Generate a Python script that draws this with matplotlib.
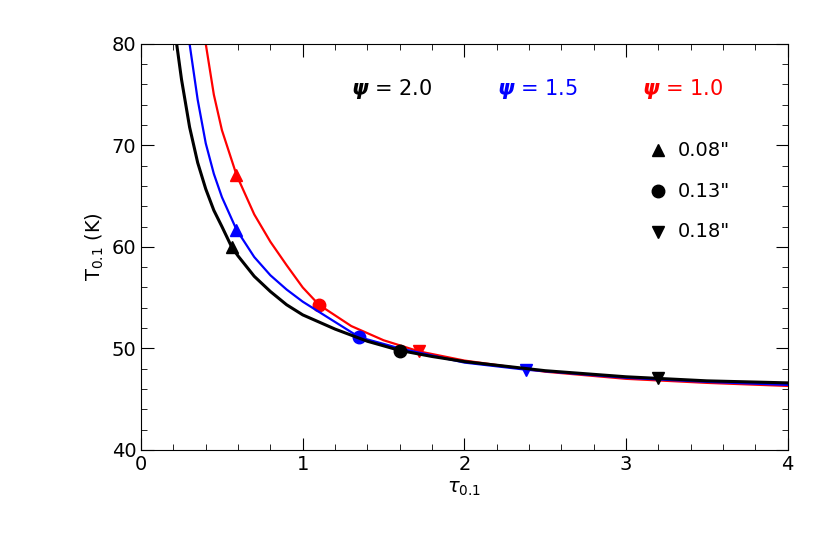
import matplotlib
matplotlib.use("Agg")
import matplotlib.pyplot as plt
from matplotlib.ticker import MultipleLocator

# curves T(tau) for three psi values
tau_k = [0.22, 0.25, 0.3, 0.35, 0.4, 0.45, 0.5, 0.56, 0.6, 0.7, 0.8, 0.9, 1.0, 1.2, 1.4, 1.6, 1.8, 2.0, 2.5, 3.0, 3.5, 4.0]
t_k = [80, 76.5, 71.8, 68.3, 65.7, 63.6, 62.0, 60.0, 59.1, 57.1, 55.6, 54.3, 53.3, 51.9, 50.7, 49.8, 49.2, 48.7, 47.8, 47.2, 46.8, 46.6]
tau_b = [0.3, 0.35, 0.4, 0.45, 0.5, 0.59, 0.7, 0.8, 0.9, 1.0, 1.2, 1.35, 1.6, 2.0, 2.38, 3.0, 3.5, 4.0]
t_b = [80, 74.5, 70.2, 67.2, 64.9, 61.7, 59.0, 57.2, 55.8, 54.6, 52.6, 51.1, 50.0, 48.6, 47.9, 47.1, 46.7, 46.4]
tau_r = [0.4, 0.45, 0.5, 0.59, 0.7, 0.8, 0.9, 1.0, 1.1, 1.3, 1.5, 1.72, 2.0, 2.5, 3.0, 3.5, 4.0]
t_r = [80, 75.0, 71.5, 67.1, 63.2, 60.5, 58.2, 56.0, 54.3, 52.2, 50.8, 49.7, 48.8, 47.7, 47.0, 46.6, 46.3]

# markers for 0.08", 0.13", 0.18"
mk_tau_k = [0.56, 1.6, 3.2]
mk_t_k = [60.0, 49.7, 47.1]
mk_tau_b = [0.59, 1.35, 2.38]
mk_t_b = [61.7, 51.1, 47.9]
mk_tau_r = [0.59, 1.1, 1.72]
mk_t_r = [67.1, 54.3, 49.7]
sizes = ['0.08"', '0.13"', '0.18"']
shapes = ['^', 'o', 'v']

fig = plt.figure(figsize=(8.3, 5.42), dpi=100)
ax = fig.add_axes([0.170, 0.170, 0.779, 0.749])
for tx, ty, mx, my, c, lw in [(tau_r, t_r, mk_tau_r, mk_t_r, 'red', 1.6),
                              (tau_b, t_b, mk_tau_b, mk_t_b, 'blue', 1.6),
                              (tau_k, t_k, mk_tau_k, mk_t_k, 'black', 2.2)]:
    ax.plot(tx, ty, color=c, lw=lw)
    for x, y, s in zip(mx, my, shapes):
        ax.plot(x, y, marker=s, color=c, ms=9, ls='none')

ax.set_xlim(0, 4)
ax.set_ylim(40, 80)
ax.xaxis.set_major_locator(MultipleLocator(1))
ax.xaxis.set_minor_locator(MultipleLocator(0.2))
ax.yaxis.set_major_locator(MultipleLocator(10))
ax.yaxis.set_minor_locator(MultipleLocator(2))
ax.tick_params(which='both', direction='in', top=True, right=True, labelsize=14)
ax.tick_params(which='major', length=9)
ax.tick_params(which='minor', length=4)
ax.set_xlabel(r'$\tau_{0.1}$', fontsize=14)
ax.set_ylabel(r'T$_{0.1}$ (K)', fontsize=14)

for x, lab, c in [(1.3, '2.0', 'black'), (2.2, '1.5', 'blue'), (3.1, '1.0', 'red')]:
    ax.text(x, 75.6, r'$\boldsymbol{\psi}$ = ' + lab, color=c, fontsize=15, va='center')
for y, s, lab in zip([69.5, 65.5, 61.5], shapes, sizes):
    ax.plot(3.2, y, marker=s, color='black', ms=9, ls='none')
    ax.text(3.32, y, lab, fontsize=14, va='center')

fig.savefig('out.png', dpi=100)
